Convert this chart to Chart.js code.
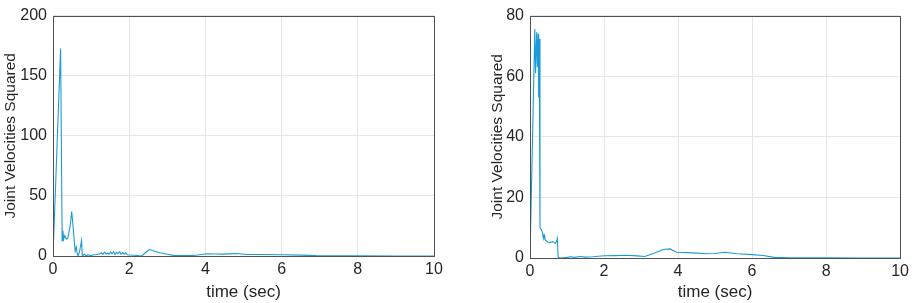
<!DOCTYPE html>
<html>
<head>
<meta charset="utf-8">
<script src="https://cdn.jsdelivr.net/npm/chart.js@4"></script>
<style>
  body { margin: 0; background: #fff; }
  .wrap { position: absolute; top: 0; height: 303px; }
</style>
</head>
<body>
<div class="wrap" style="left:0;width:450px"><canvas id="chartLeft"></canvas></div>
<div class="wrap" style="left:460px;width:453px"><canvas id="chartRight"></canvas></div>
<script>
// time axis ticks (sec)
const timeTicks = [0, 2, 4, 6, 8, 10];

// left plot: joint velocities squared
const leftTicks = [0, 50, 100, 150, 200];
const leftTime = [0, 0.2, 0.24, 0.26, 0.28, 0.31, 0.35, 0.39, 0.45, 0.49, 0.54, 0.58, 0.61, 0.63, 0.66, 0.7, 0.75, 0.77, 0.82, 0.88, 0.92, 0.98, 1.05, 1.15, 1.22, 1.27, 1.31, 1.35, 1.39, 1.43, 1.47, 1.51, 1.55, 1.59, 1.63, 1.67, 1.71, 1.75, 1.79, 1.83, 1.87, 1.91, 1.95, 2.0, 2.15, 2.33, 2.45, 2.53, 2.65, 2.8, 3.0, 3.16, 3.4, 3.6, 3.8, 4.03, 4.25, 4.47, 4.65, 4.82, 5.08, 5.5, 6.04, 6.5, 6.9, 7.5, 8.0, 9.0, 10.0];
const leftVals = [0, 172.7, 12.8, 21, 14, 17, 14, 15, 25, 37, 20, 4, 7.5, 3, 0, 4, 13, 0, 1.5, 0.2, 1, 0.3, 0.8, 1.2, 1.6, 2.8, 1.4, 3.2, 1.6, 2.5, 1.5, 3.4, 1.8, 3.5, 1.2, 3.0, 2.0, 3.6, 1.4, 2.9, 1.5, 2.6, 1.0, 0.8, 0.6, 0, 3.5, 5.4, 4.2, 2.7, 1.4, 0.5, 0.4, 0.3, 0.8, 1.9, 1.7, 1.6, 1.8, 2.1, 1.3, 1.2, 1.1, 0.7, 0.3, 0.2, 0.1, 0.05, 0];

// right plot: joint velocities squared
const rightTicks = [0, 20, 40, 60, 80];
const rightTime = [0, 0.13, 0.15, 0.18, 0.2, 0.22, 0.235, 0.25, 0.27, 0.31, 0.34, 0.36, 0.38, 0.4, 0.44, 0.48, 0.53, 0.58, 0.62, 0.66, 0.69, 0.72, 0.74, 0.76, 0.78, 0.9, 1.0, 1.1, 1.2, 1.35, 1.5, 1.7, 1.85, 2.0, 2.3, 2.58, 2.9, 3.1, 3.35, 3.6, 3.78, 3.96, 4.4, 4.8, 5.0, 5.26, 5.6, 6.0, 6.3, 6.6, 7.0, 8.0, 9.0, 10.0];
const rightVals = [0, 75.6, 61, 74.5, 63, 74, 53, 72.4, 10, 9.3, 8.2, 6.5, 7.6, 6.2, 5.6, 5.3, 5.1, 5.3, 5.4, 5.0, 4.8, 5.6, 6.5, 0.3, 0, 0.1, 0.2, 0.4, 0.2, 0.5, 0.3, 0.4, 0.6, 0.75, 0.8, 0.9, 0.7, 0.5, 1.6, 2.8, 3.0, 1.9, 1.7, 1.4, 1.5, 1.9, 1.4, 1.1, 0.8, 0.2, 0.1, 0.05, 0.02, 0];

const lineColor = "#1b9bd7";
const textColor = "#262626";
const family = "'Liberation Sans', Arial, sans-serif";
const tickFont = { family: family, size: 16 };
const xTitleFont = { family: family, size: 17 };
const yTitleFont = { family: family, size: 15.5 };

// draws the axes box (MATLAB style "box on")
const boxPlugin = {
  id: "box",
  afterDraw(chart) {
    const a = chart.chartArea;
    const ctx = chart.ctx;
    ctx.save();
    ctx.strokeStyle = "#505050";
    ctx.lineWidth = 1;
    ctx.strokeRect(Math.round(a.left) + 0.5, Math.round(a.top) + 0.5, Math.round(a.right - a.left), Math.round(a.bottom - a.top));
    ctx.restore();
  }
};

function makeChart(id, times, vals, yTicks, yWidth, xHeight, padRight, titlePad) {
  const points = times.map((t, i) => ({ x: t, y: vals[i] }));
  const yMax = yTicks[yTicks.length - 1];
  return new Chart(document.getElementById(id), {
    type: "line",
    data: {
      datasets: [{
        data: points,
        borderColor: lineColor,
        borderWidth: 1.1,
        pointRadius: 0,
        tension: 0,
        fill: false
      }]
    },
    options: {
      responsive: true,
      maintainAspectRatio: false,
      animation: false,
      layout: { padding: { top: 7, right: padRight, left: 0, bottom: 0 } },
      plugins: { legend: { display: false }, tooltip: { enabled: false } },
      scales: {
        x: {
          type: "linear",
          min: 0,
          max: 10,
          afterBuildTicks: s => { s.ticks = timeTicks.map(v => ({ value: v })); },
          afterFit: s => { s.height = xHeight; },
          grid: { color: "#e6e6e6", drawTicks: false },
          border: { display: false },
          ticks: { color: textColor, font: tickFont, padding: 4, maxRotation: 0 },
          title: { display: true, text: "time (sec)", color: textColor, font: xTitleFont, padding: { top: 0, bottom: 0 } }
        },
        y: {
          min: 0,
          max: yMax,
          afterBuildTicks: s => { s.ticks = yTicks.map(v => ({ value: v })); },
          afterFit: s => { s.width = yWidth; },
          grid: { color: "#e6e6e6", drawTicks: false },
          border: { display: false },
          ticks: { color: textColor, font: tickFont, padding: 6 },
          title: { display: true, text: "Joint Velocities Squared", color: textColor, font: yTitleFont, padding: { top: titlePad, bottom: 4 } }
        }
      }
    },
    plugins: [boxPlugin]
  });
}

makeChart("chartLeft", leftTime, leftVals, leftTicks, 53, 47, 16, 1);
makeChart("chartRight", rightTime, rightVals, rightTicks, 70, 45, 10, 28);
</script>
</body>
</html>
